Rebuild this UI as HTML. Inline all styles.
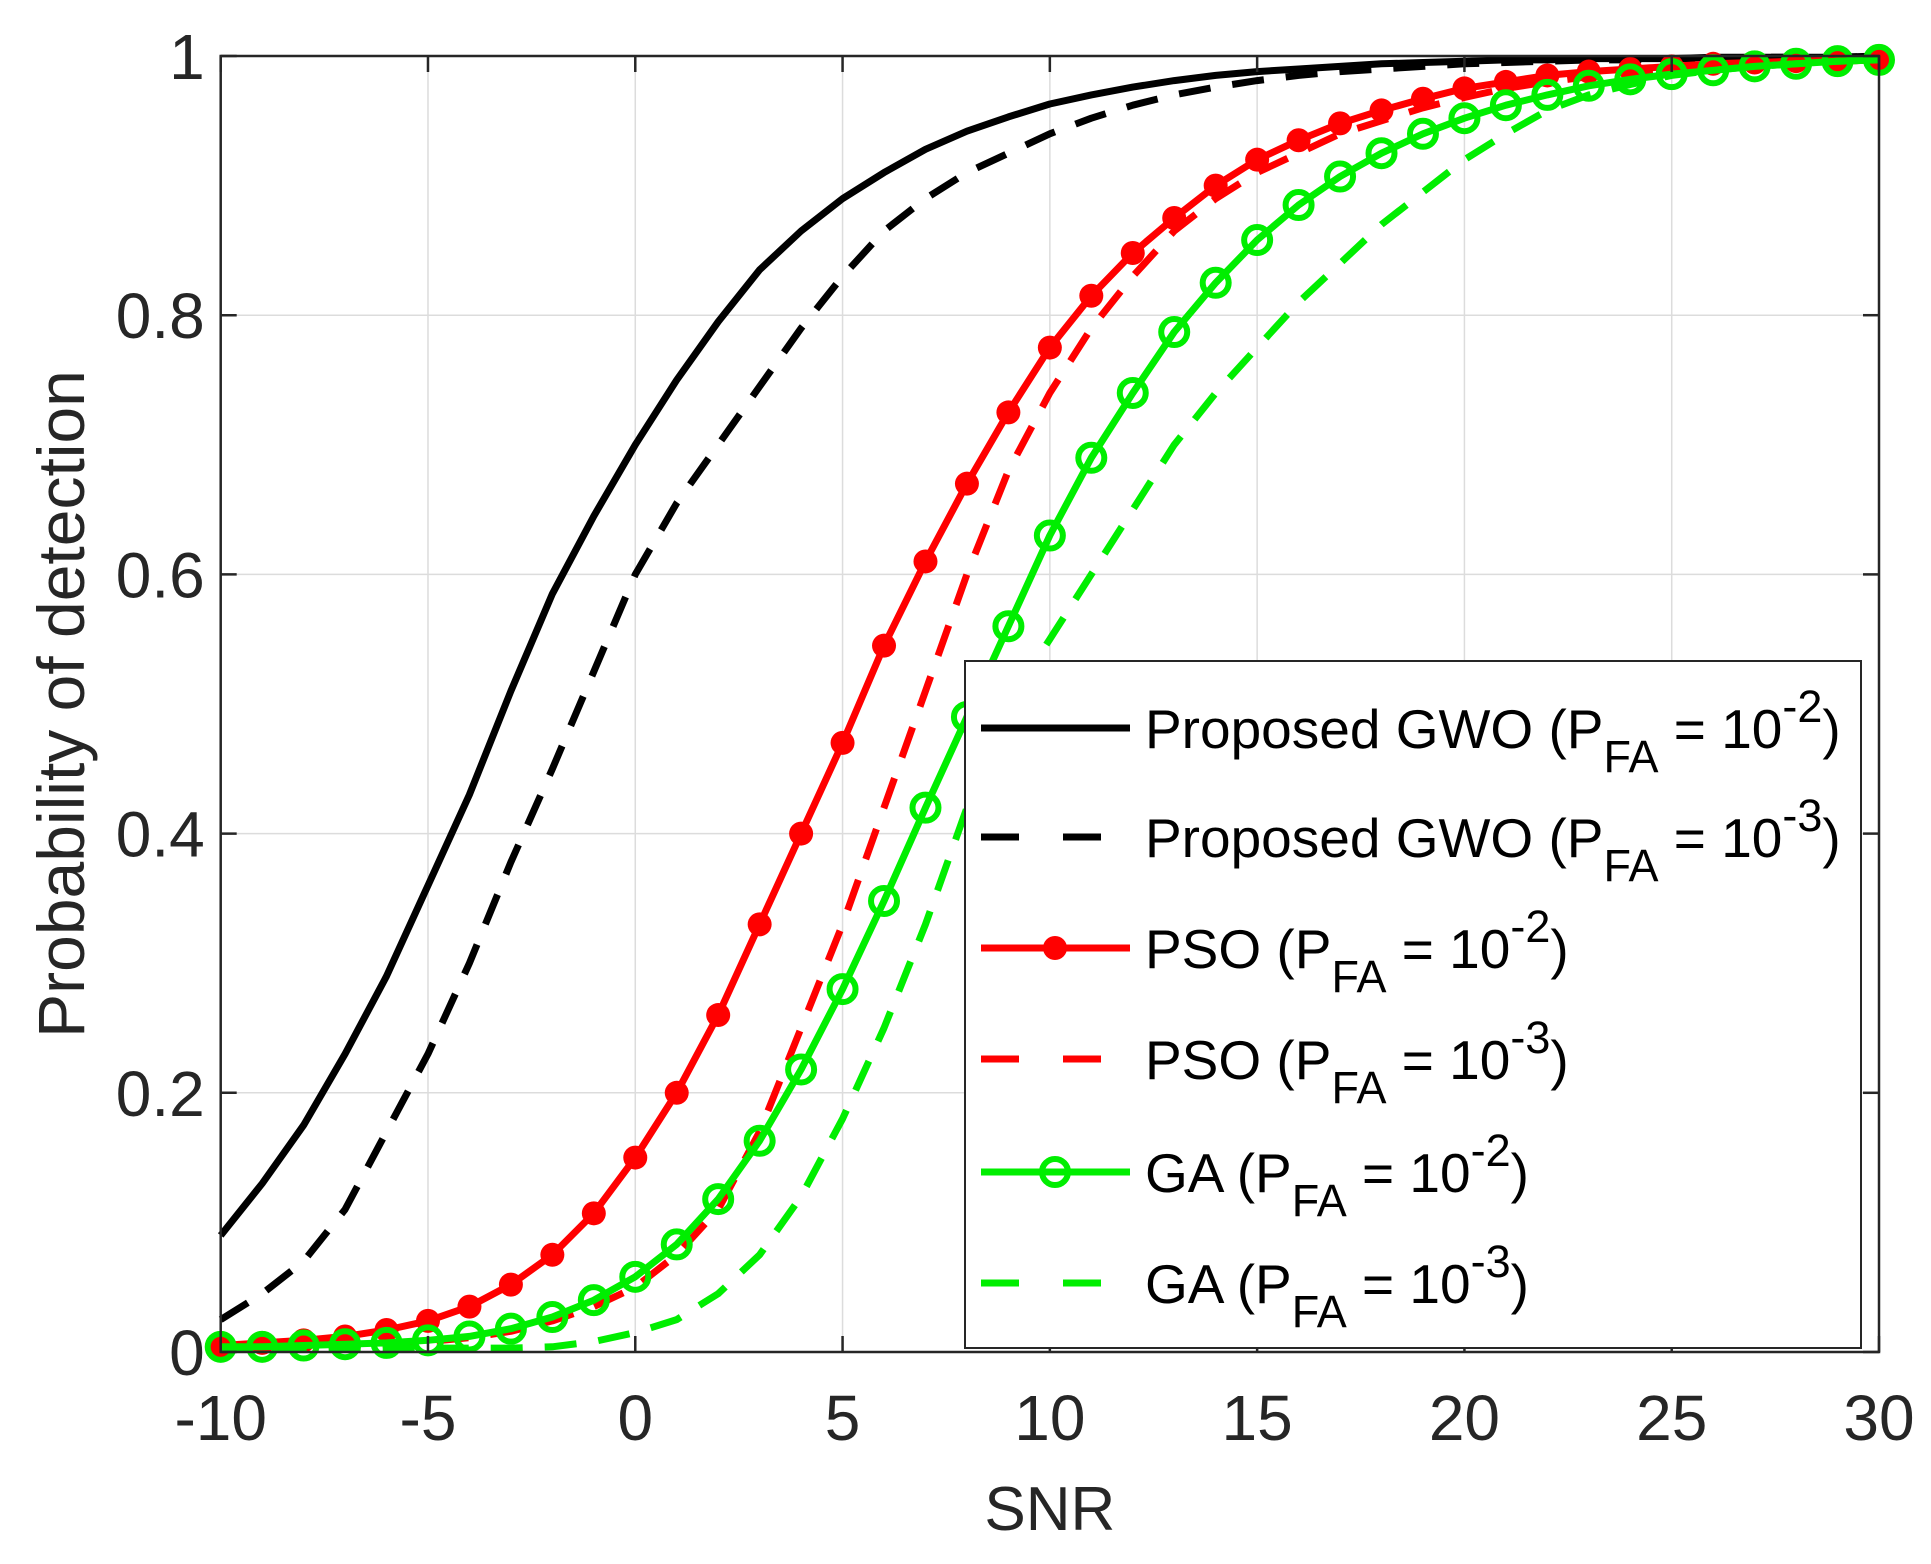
<!DOCTYPE html>
<html><head><meta charset="utf-8">
<style>
html,body{margin:0;padding:0;background:#fff;}
svg{display:block;font-family:"Liberation Sans",Arial,sans-serif;}
</style></head>
<body>
<svg id="chart" width="1931" height="1564" viewBox="0 0 1931 1564" xmlns="http://www.w3.org/2000/svg">
<g id="grid"></g>
<g id="series"></g>
<g id="axes"></g>
<g id="legend"></g>
</svg>
<script>
const snr = [-10,-9,-8,-7,-6,-5,-4,-3,-2,-1,0,1,2,3,4,5,6,7,8,9,10,11,12,13,14,15,16,17,18,19,20,21,22,23,24,25,26,27,28,29,30];
const gwo2 = [.09,.13,.175,.23,.29,.36,.43,.51,.585,.645,.70,.75,.795,.835,.865,.89,.91,.928,.942,.953,.963,.97,.976,.981,.985,.988,.99,.992,.994,.995,.996,.997,.997,.998,.998,.998,.999,.999,.999,.999,1];
const gwo3 = [.025,.045,.07,.11,.17,.23,.30,.378,.45,.525,.60,.655,.70,.745,.79,.83,.865,.89,.91,.925,.94,.952,.962,.97,.976,.981,.985,.988,.99,.992,.994,.995,.996,.997,.997,.998,.998,.999,.999,.999,1];
const pso2 = [.005,.007,.009,.012,.017,.024,.035,.052,.075,.107,.15,.20,.26,.33,.40,.47,.545,.61,.67,.725,.775,.815,.848,.875,.90,.92,.935,.948,.958,.967,.975,.98,.985,.988,.99,.992,.994,.995,.996,.997,.997];
const pso3 = [.003,.003,.004,.005,.006,.008,.011,.016,.024,.035,.05,.075,.11,.17,.25,.33,.42,.51,.60,.68,.74,.79,.83,.865,.89,.91,.925,.94,.95,.96,.968,.975,.98,.984,.987,.99,.992,.994,.995,.996,.997];
const ga2 = [.004,.004,.005,.006,.007,.009,.012,.018,.027,.04,.058,.083,.118,.163,.218,.28,.348,.42,.49,.56,.63,.69,.74,.787,.825,.858,.885,.907,.925,.94,.952,.962,.97,.977,.982,.986,.989,.992,.994,.996,.997];
const ga3 = [.003,.003,.003,.003,.003,.003,.003,.003,.004,.008,.015,.025,.045,.075,.12,.18,.25,.33,.42,.50,.55,.60,.65,.70,.74,.775,.81,.84,.87,.895,.92,.94,.958,.97,.978,.985,.989,.992,.994,.996,.997];
const xTicks = [-10,-5,0,5,10,15,20,25,30];
const yTicks = [0,0.2,0.4,0.6,0.8,1];
const yTickLabels = ["0","0.2","0.4","0.6","0.8","1"];

const X0=220.7, X1=1879, Y0=1352, Y1=56;
const xs = v => X0 + (v+10)/40*(X1-X0);
const ys = v => Y0 - v*(Y0-Y1);
const NS="http://www.w3.org/2000/svg";
function mk(tag, attrs, parent){const e=document.createElementNS(NS,tag);for(const k in attrs)e.setAttribute(k,attrs[k]);parent.appendChild(e);return e;}
const grid=document.getElementById('grid'), ser=document.getElementById('series'), axes=document.getElementById('axes'), leg=document.getElementById('legend');

xTicks.forEach(t=>{const l=mk('line',{x1:xs(t),x2:xs(t),y1:Y1,y2:Y0,stroke:'#dcdcdc','stroke-width':1.5},grid);

});
yTicks.forEach(t=>{const l=mk('line',{x1:X0,x2:X1,y1:ys(t),y2:ys(t),stroke:'#dcdcdc','stroke-width':1.5},grid);

});

const series=[
 {name:'gwo-pfa-1e-2',vals:gwo2,color:'#000',dash:null,marker:null},
 {name:'gwo-pfa-1e-3',vals:gwo3,color:'#000',dash:'32 22',marker:null},
 {name:'pso-pfa-1e-2',vals:pso2,color:'#ff0000',dash:null,marker:'dot'},
 {name:'pso-pfa-1e-3',vals:pso3,color:'#ff0000',dash:'32 22',marker:null},
 {name:'ga-pfa-1e-2',vals:ga2,color:'#00ee00',dash:null,marker:'ring'},
 {name:'ga-pfa-1e-3',vals:ga3,color:'#00ee00',dash:'32 22',marker:null}
];
series.forEach(s=>{
 const g=mk('g',{},ser);
 
 
 const d=s.vals.map((v,i)=>(i?'L':'M')+xs(snr[i]).toFixed(1)+' '+ys(v).toFixed(1)).join(' ');
 const p=mk('path',{d:d,fill:'none',stroke:s.color,'stroke-width':7,'stroke-linejoin':'round'},g);
 if(s.dash)p.setAttribute('stroke-dasharray',s.dash);
 
 
 if(s.marker){s.vals.forEach((v,i)=>{
  let c;
  if(s.marker==='dot') c=mk('circle',{cx:xs(snr[i]),cy:ys(v),r:12,fill:s.color},g);
  else c=mk('circle',{cx:xs(snr[i]),cy:ys(v),r:13,fill:'none',stroke:s.color,'stroke-width':6},g);
  
  
 });}
});

const box=mk('rect',{x:X0,y:Y1,width:X1-X0,height:Y0-Y1,fill:'none',stroke:'#262626','stroke-width':2.5},axes);


xTicks.forEach(t=>{
 mk('line',{x1:xs(t),x2:xs(t),y1:Y0,y2:Y0-16,stroke:'#262626','stroke-width':2.5},axes);
 mk('line',{x1:xs(t),x2:xs(t),y1:Y1,y2:Y1+16,stroke:'#262626','stroke-width':2.5},axes);
 const tx=mk('text',{x:xs(t),y:1440,'text-anchor':'middle','font-size':64,fill:'#262626'},axes);
 tx.textContent=String(t);
 
 
});
yTicks.forEach((t,i)=>{
 mk('line',{x1:X0,x2:X0+16,y1:ys(t),y2:ys(t),stroke:'#262626','stroke-width':2.5},axes);
 mk('line',{x1:X1,x2:X1-16,y1:ys(t),y2:ys(t),stroke:'#262626','stroke-width':2.5},axes);
 const tx=mk('text',{x:X0-16,y:ys(t)+23,'text-anchor':'end','font-size':64,fill:'#262626'},axes);
 tx.textContent=yTickLabels[i];
 
 
});
const xl=mk('text',{x:(X0+X1)/2,y:1530,'text-anchor':'middle','font-size':62,fill:'#262626'},axes);
xl.textContent='SNR';


const yl=mk('text',{x:0,y:0,'text-anchor':'middle','font-size':66,fill:'#262626',transform:'translate(84 '+((Y0+Y1)/2)+') rotate(-90)'},axes);
yl.textContent='Probability of detection';



const lb=mk('rect',{x:965,y:661,width:896,height:687,fill:'#fff',stroke:'#262626','stroke-width':2},leg);


const labels=[['Proposed GWO (P','-2'],['Proposed GWO (P','-3'],['PSO (P','-2'],['PSO (P','-3'],['GA (P','-2'],['GA (P','-3']];
const ly=[728,837,948,1059,1172,1283];
series.forEach((s,i)=>{
 const g=mk('g',{},leg);
 
 
 const l=mk('line',{x1:981,x2:1130,y1:ly[i],y2:ly[i],stroke:s.color,'stroke-width':7},g);
 if(s.dash)l.setAttribute('stroke-dasharray','38 44');
 if(s.marker==='dot')mk('circle',{cx:1055,cy:ly[i],r:12,fill:s.color},g);
 if(s.marker==='ring')mk('circle',{cx:1055,cy:ly[i],r:13,fill:'none',stroke:s.color,'stroke-width':6},g);
 const t=mk('text',{x:1145,y:ly[i]+20,'font-size':55,fill:'#000'},g);
 t.innerHTML=labels[i][0]+'<tspan dy="24" font-size="45">FA</tspan><tspan dy="-24"> = 10</tspan><tspan dy="-26" font-size="45">'+labels[i][1]+'</tspan><tspan dy="26">)</tspan>';
});
</script>
</body></html>
